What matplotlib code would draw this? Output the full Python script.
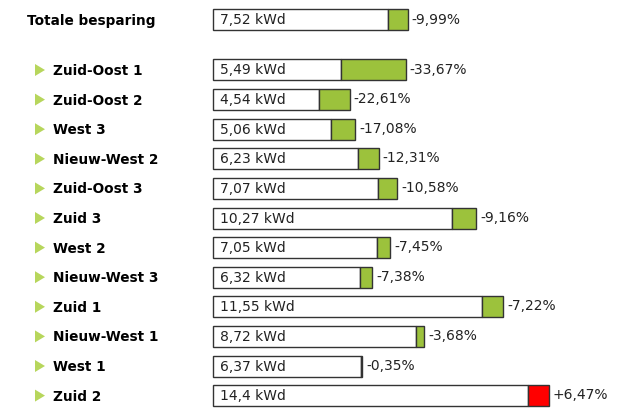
import matplotlib.pyplot as plt
from matplotlib.patches import Polygon

# data
total_label = "Totale besparing"
total_value = 7.52
total_change = -9.99

regions = ["Zuid-Oost 1", "Zuid-Oost 2", "West 3", "Nieuw-West 2", "Zuid-Oost 3",
           "Zuid 3", "West 2", "Nieuw-West 3", "Zuid 1", "Nieuw-West 1", "West 1", "Zuid 2"]
values = [5.49, 4.54, 5.06, 6.23, 7.07, 10.27, 7.05, 6.32, 11.55, 8.72, 6.37, 14.4]
value_labels = ["5,49", "4,54", "5,06", "6,23", "7,07", "10,27", "7,05", "6,32",
                "11,55", "8,72", "6,37", "14,4"]
changes = [-33.67, -22.61, -17.08, -12.31, -10.58, -9.16, -7.45, -7.38, -7.22, -3.68, -0.35, 6.47]

W, H = 624, 411
x0 = 213        # pixel where bars start
scale = 23.3    # pixels per kWd

fig = plt.figure(figsize=(W / 100, H / 100), dpi=100)
ax = fig.add_axes([0, 0, 1, 1])
ax.set_xlim(-x0 / scale, (W - x0) / scale)
ax.set_ylim(H, 0)
ax.axis("off")

px = 1 / scale  # one pixel in data units
green = "#9cc23c"
red = "#ff0000"


def draw_row(y, value, label, change):
    prev = value / (1 + change / 100)
    if change < 0:
        white_end, total_end, col = value, prev, green
    else:
        white_end, total_end, col = prev, value, red
    ax.barh(y, white_end, height=21, left=0, color="white", edgecolor="#333333", linewidth=1)
    ax.barh(y, total_end - white_end, height=21, left=white_end, color=col,
            edgecolor="#333333", linewidth=1)
    ax.text(7 * px, y + 0.5, label + " kWd", fontsize=10, va="center", ha="left", color="#222222")
    sign = "+" if change > 0 else ""
    ax.text(total_end + 4 * px, y - 0.5, sign + ("%.2f" % change).replace(".", ",") + "%",
            fontsize=10, va="center", ha="left", color="#222222")


# totals row
ty = 20
ax.text(-186 * px, ty + 1, total_label, fontsize=9.8, fontweight="bold", va="center", ha="left")
draw_row(ty, total_value, "7,52", total_change)

for i, (name, v, lab, c) in enumerate(zip(regions, values, value_labels, changes)):
    y = 70 + i * 29.6
    tri = Polygon([(-178 * px, y - 6), (-178 * px, y + 6), (-168 * px, y)],
                  closed=True, color="#b7d65c", lw=0)
    ax.add_patch(tri)
    ax.text(-160 * px, y + 1, name, fontsize=9.8, fontweight="bold", va="center", ha="left")
    draw_row(y, v, lab, c)

fig.savefig("out.png", dpi=100, facecolor="white")
